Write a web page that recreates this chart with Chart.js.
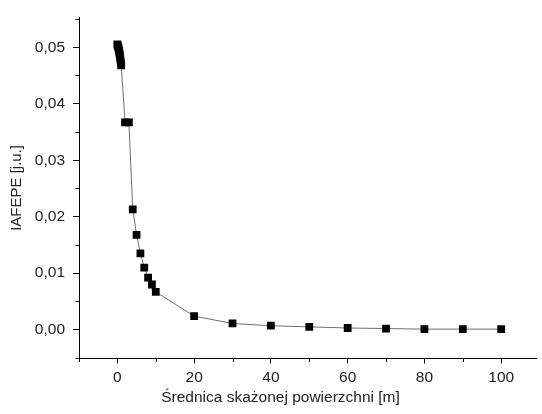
<!DOCTYPE html>
<html>
<head>
<meta charset="utf-8">
<script src="https://cdn.jsdelivr.net/npm/chart.js@4.4.1/dist/chart.umd.min.js"></script>
<style>
  html, body { margin: 0; padding: 0; background: #fff; overflow: hidden; }
  #wrap { width: 542px; height: 414px; position: relative; }
</style>
</head>
<body>
<div id="wrap"><canvas id="c" width="542" height="414"></canvas></div>
<script>
// ---- data ----
const diameters = [0, 0.1, 0.2, 0.3, 0.4, 0.5, 0.6, 0.7, 0.8, 0.9, 1,
                   2, 3, 4, 5, 6, 7, 8, 9, 10,
                   20, 30, 40, 50, 60, 70, 80, 90, 100];
const iafepe = [0.0505, 0.0503, 0.0501, 0.0498, 0.0495, 0.0491, 0.0487, 0.0483, 0.0478, 0.0473, 0.0468,
                0.0367, 0.0367, 0.0213, 0.0168, 0.0135, 0.0110, 0.0092, 0.0080, 0.0067,
                0.0024, 0.0011, 0.0007, 0.0005, 0.0003, 0.0002, 0.0001, 0.0001, 0.0001];
const xMajorTicks = [0, 20, 40, 60, 80, 100];
const xMinorTicks = [-10, 10, 30, 50, 70, 90];
const yMajorTicks = [0, 0.01, 0.02, 0.03, 0.04, 0.05];
const yMinorTicks = [-0.005, 0.005, 0.015, 0.025, 0.035, 0.045, 0.055];
const yTickLabels = ['0,00', '0,01', '0,02', '0,03', '0,04', '0,05'];
const xTitle = 'Średnica skażonej powierzchni [m]';
const yTitle = 'IAFEPE [j.u.]';

const points = diameters.map((x, i) => ({ x: x, y: iafepe[i] }));
const FONT = "'Liberation Sans', Arial, sans-serif";
const TEXT = '#222';

const extras = {
  id: 'extras',
  afterDraw(chart) {
    const ctx = chart.ctx;
    const xs = chart.scales.x, ys = chart.scales.y;
    ctx.save();
    ctx.strokeStyle = '#000';
    ctx.lineWidth = 1;
    ctx.beginPath();
    xMinorTicks.forEach(v => {
      if (v < xs.min || v > xs.max) return;
      const px = Math.round(xs.getPixelForValue(v)) + 0.5;
      ctx.moveTo(px, xs.top);
      ctx.lineTo(px, xs.top + 3.5);
    });
    yMinorTicks.forEach(v => {
      if (v < ys.min || v > ys.max) return;
      const py = Math.round(ys.getPixelForValue(v)) + 0.5;
      ctx.moveTo(ys.right - 3.5, py);
      ctx.lineTo(ys.right, py);
    });
    ctx.stroke();
    // x-axis title (placed as in the original figure, left of the axis centre)
    ctx.fillStyle = TEXT;
    ctx.font = "15.5px " + FONT;
    ctx.textAlign = 'center';
    ctx.textBaseline = 'middle';
    ctx.fillText(xTitle, xs.getPixelForValue(42.5), 398);
    ctx.restore();
  }
};

new Chart(document.getElementById('c'), {
  type: 'scatter',
  data: {
    datasets: [{
      data: points,
      showLine: true,
      borderColor: '#707070',
      borderWidth: 1,
      pointStyle: 'rect',
      pointRadius: 5.5,
      pointHoverRadius: 5.5,
      pointBackgroundColor: '#000',
      pointBorderWidth: 0,
      tension: 0
    }]
  },
  options: {
    responsive: false,
    animation: false,
    events: [],
    layout: { padding: { top: 15, right: 1, left: 0, bottom: 0 } },
    plugins: { legend: { display: false }, tooltip: { enabled: false } },
    scales: {
      x: {
        type: 'linear',
        min: -10,
        max: 109.2,
        afterBuildTicks(scale) { scale.ticks = xMajorTicks.map(v => ({ value: v })); },
        afterFit(scale) { scale.height = 55.5; },
        border: { display: true, color: '#000', width: 1 },
        grid: { display: true, drawOnChartArea: false, drawTicks: true, tickLength: 5, color: '#000', tickColor: '#000' },
        ticks: {
          padding: 5,
          color: TEXT,
          font: { family: FONT, size: 15.5 },
          maxRotation: 0,
          autoSkip: false,
          callback: (v) => String(v)
        },
        title: { display: false }
      },
      y: {
        type: 'linear',
        min: -0.0051,
        max: 0.0553,
        afterBuildTicks(scale) { scale.ticks = yMajorTicks.map(v => ({ value: v })); },
        afterFit(scale) { scale.width = 79; },
        border: { display: true, color: '#000', width: 1 },
        grid: { display: true, drawOnChartArea: false, drawTicks: true, tickLength: 6, color: '#000', tickColor: '#000' },
        ticks: {
          padding: 8,
          color: TEXT,
          font: { family: FONT, size: 15.5 },
          autoSkip: false,
          callback: (v) => {
            const i = yMajorTicks.findIndex(t => Math.abs(t - v) < 1e-9);
            return i >= 0 ? yTickLabels[i] : '';
          }
        },
        title: {
          display: true,
          text: yTitle,
          color: TEXT,
          font: { family: FONT, size: 15 },
          padding: { top: 8, bottom: 0 }
        }
      }
    }
  },
  plugins: [extras]
});
</script>
</body>
</html>
